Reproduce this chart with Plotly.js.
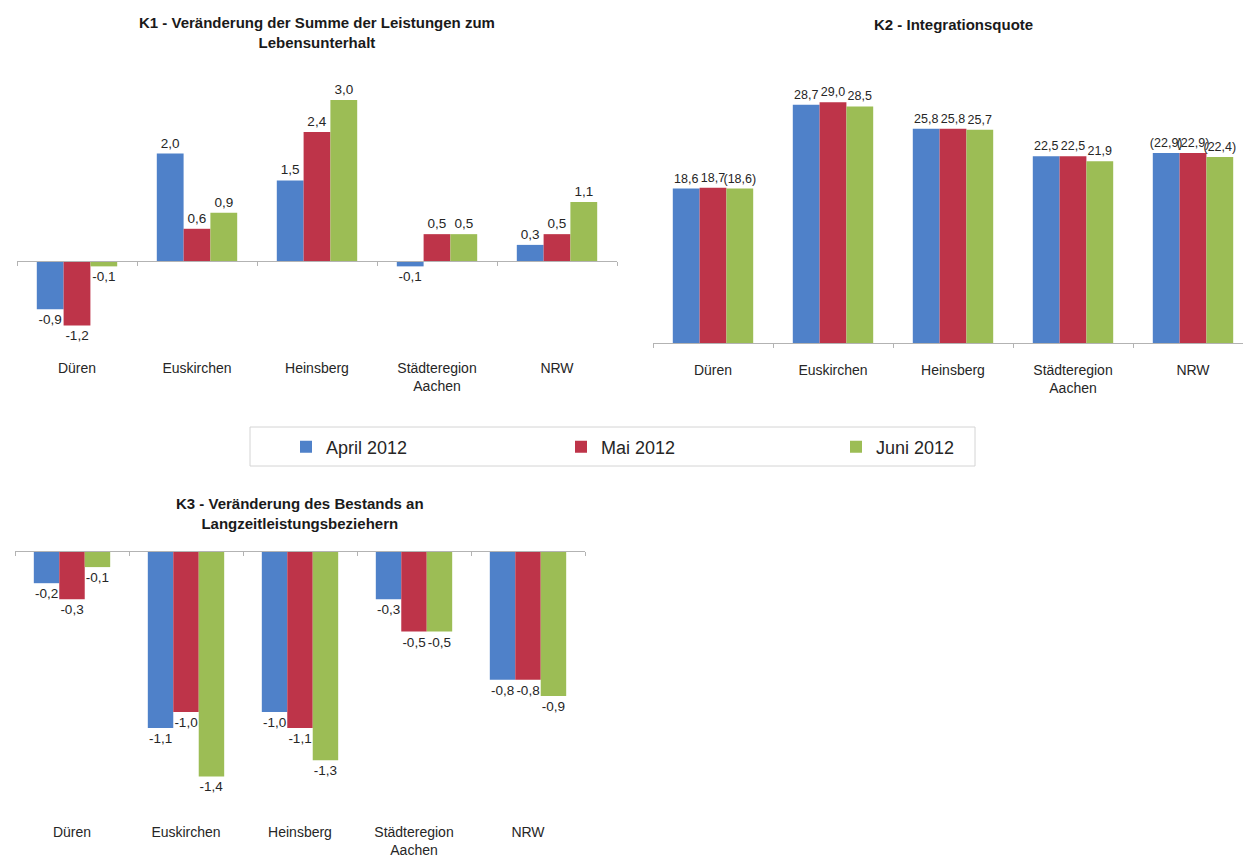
<!DOCTYPE html>
<html>
<head>
<meta charset="utf-8">
<script src="https://cdn.plot.ly/plotly-3.0.1.min.js"></script>
<style>html,body{margin:0;padding:0;background:#fff;overflow:hidden}#chart{width:1243px;height:859px}</style>
</head>
<body>
<div id="chart"></div>
<script>
// ---- data ----
const categories = ['Düren', 'Euskirchen', 'Heinsberg', 'Städteregion<br>Aachen', 'NRW'];
const seriesNames = ['April 2012', 'Mai 2012', 'Juni 2012'];

const k1Title = 'K1 - Veränderung der Summe der Leistungen zum<br>Lebensunterhalt';
const k1April = [-0.9, 2.0, 1.5, -0.1, 0.3];
const k1Mai   = [-1.2, 0.6, 2.4, 0.5, 0.5];
const k1Juni  = [-0.1, 0.9, 3.0, 0.5, 1.1];

const k2Title = 'K2 - Integrationsquote';
const k2April = [18.6, 28.7, 25.8, 22.5, 22.9];
const k2Mai   = [18.7, 29.0, 25.8, 22.5, 22.9];
const k2Juni  = [18.6, 28.5, 25.7, 21.9, 22.4];
// values shown in brackets (provisional)
const k2AprilBracket = [false, false, false, false, true];
const k2MaiBracket   = [false, false, false, false, true];
const k2JuniBracket  = [true, false, false, false, true];

const k3Title = 'K3 - Veränderung des Bestands an<br>Langzeitleistungsbeziehern';
const k3April = [-0.2, -1.1, -1.0, -0.3, -0.8];
const k3Mai   = [-0.3, -1.0, -1.1, -0.5, -0.8];
const k3Juni  = [-0.1, -1.4, -1.3, -0.5, -0.9];

// ---- styling / layout helpers ----
const colors = ['#4F81C9', '#BE3449', '#9CBD55'];
const W = 1243, H = 859;
const fx = p => p / W;
const fy = p => 1 - p / H;
const fmt = v => v.toFixed(1).replace('.', ',');
const fmtB = (vals, br) => vals.map((v, i) => br[i] ? '(' + fmt(v) + ')' : fmt(v));

const labelFont = {family: 'Liberation Sans, Arial, sans-serif', size: 13.5, color: '#262626'};
const labelFontK2 = {family: 'Liberation Sans, Arial, sans-serif', size: 12.5, color: '#262626'};

function barTrace(name, vals, texts, xa, ya, idx, showlegend, tf) {
  return {
    type: 'bar', name: name, x: categories, y: vals,
    text: texts, textposition: 'outside', cliponaxis: false, constraintext: 'none',
    textfont: tf || labelFont, marker: {color: colors[idx]},
    xaxis: xa, yaxis: ya, showlegend: showlegend, legendgroup: name,
    hoverinfo: 'skip'
  };
}

const traces = [
  barTrace(seriesNames[0], k1April, k1April.map(fmt), 'x', 'y', 0, true),
  barTrace(seriesNames[1], k1Mai, k1Mai.map(fmt), 'x', 'y', 1, true),
  barTrace(seriesNames[2], k1Juni, k1Juni.map(fmt), 'x', 'y', 2, true),
  barTrace(seriesNames[0], k2April, fmtB(k2April, k2AprilBracket), 'x2', 'y2', 0, false, labelFontK2),
  barTrace(seriesNames[1], k2Mai, fmtB(k2Mai, k2MaiBracket), 'x2', 'y2', 1, false, labelFontK2),
  barTrace(seriesNames[2], k2Juni, fmtB(k2Juni, k2JuniBracket), 'x2', 'y2', 2, false, labelFontK2),
  barTrace(seriesNames[0], k3April, k3April.map(fmt), 'x3', 'y3', 0, false),
  barTrace(seriesNames[1], k3Mai, k3Mai.map(fmt), 'x3', 'y3', 1, false),
  barTrace(seriesNames[2], k3Juni, k3Juni.map(fmt), 'x3', 'y3', 2, false)
];

// pixel geometry of the three panels
const P1 = {left: 17, right: 617, top: 60, bottom: 345, zero: 261, scale: 53.7, step: 120};
const P2 = {left: 653, right: 1243, top: 60, bottom: 343, zero: 343, scale: 8.3, step: 120};
const P3 = {left: 15, right: 585, top: 545, bottom: 800, zero: 551, scale: 161, step: 114};

function yRange(P) { return [-(P.bottom - P.zero) / P.scale, (P.zero - P.top) / P.scale]; }
function xRange(P) { return [-0.5, -0.5 + (P.right - P.left) / P.step]; }

const tickFont = {family: 'Liberation Sans, Arial, sans-serif', size: 14, color: '#262626'};

function xAxis(P, standoff) {
  return {
    domain: [fx(P.left), fx(P.right)], range: xRange(P), type: 'category',
    anchor: 'free', position: fy(P.zero),
    showline: true, linecolor: '#b3b3b3', linewidth: 1,
    ticks: 'outside', tickson: 'boundaries', ticklen: 4, tickcolor: '#b3b3b3',
    showgrid: false, zeroline: false, tickfont: tickFont, ticklabelstandoff: standoff,
    fixedrange: true
  };
}
function yAxis(P, xa) {
  return {domain: [fy(P.bottom), fy(P.top)], range: yRange(P), anchor: xa, visible: false, fixedrange: true};
}

const titleFont = {family: 'Liberation Sans, Arial, sans-serif', size: 15, color: '#1a1a1a'};

const layout = {
  width: W, height: H, margin: {l: 0, r: 0, t: 0, b: 0},
  paper_bgcolor: '#ffffff', plot_bgcolor: 'rgba(0,0,0,0)',
  barmode: 'group', bargap: 0.33, bargroupgap: 0,
  xaxis: xAxis(P1, 94), yaxis: yAxis(P1, 'x'),
  xaxis2: xAxis(P2, 14), yaxis2: yAxis(P2, 'x2'),
  xaxis3: xAxis(P3, 268), yaxis3: yAxis(P3, 'x3'),
  showlegend: true,
  legend: {
    orientation: 'h', x: fx(286), y: fy(447), xanchor: 'left', yanchor: 'middle',
    entrywidth: 230, entrywidthmode: 'pixels', bgcolor: 'rgba(0,0,0,0)',
    font: {family: 'Liberation Sans, Arial, sans-serif', size: 18, color: '#262626'},
    itemclick: false, itemdoubleclick: false
  },
  shapes: [{
    type: 'rect', xref: 'paper', yref: 'paper',
    x0: fx(250), x1: fx(975), y0: fy(466), y1: fy(427),
    line: {color: '#d4d4d4', width: 1}, fillcolor: 'rgba(0,0,0,0)'
  }],
  annotations: [
    {text: '<b>' + k1Title + '</b>', xref: 'paper', yref: 'paper', x: fx(317), y: fy(12), xanchor: 'center', yanchor: 'top', showarrow: false, font: titleFont},
    {text: '<b>' + k2Title + '</b>', xref: 'paper', yref: 'paper', x: fx(953), y: fy(14), xanchor: 'center', yanchor: 'top', showarrow: false, font: titleFont},
    {text: '<b>' + k3Title + '</b>', xref: 'paper', yref: 'paper', x: fx(300), y: fy(493), xanchor: 'center', yanchor: 'top', showarrow: false, font: titleFont}
  ]
};

Plotly.newPlot('chart', traces, layout, {displayModeBar: false, staticPlot: true});
</script>
</body>
</html>
